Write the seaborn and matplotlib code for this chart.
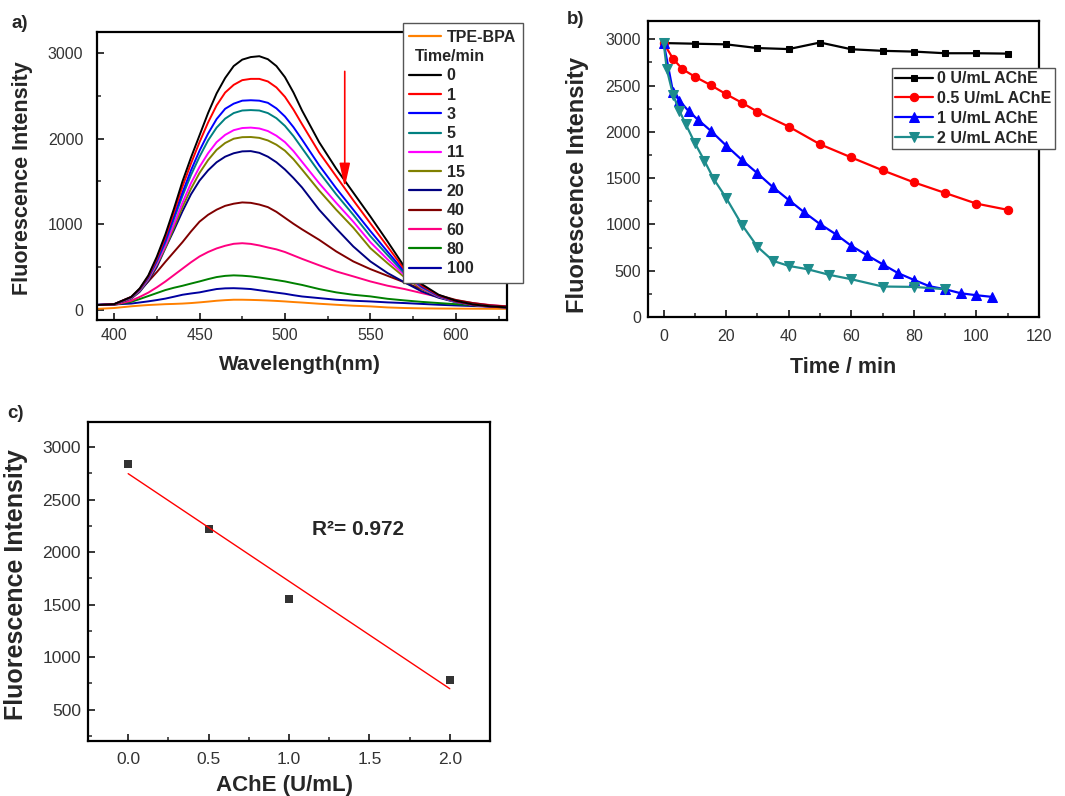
import numpy as np
import pandas as pd
import matplotlib
matplotlib.use("Agg")
import matplotlib.pyplot as plt
from matplotlib.lines import Line2D
from matplotlib.ticker import MultipleLocator
import seaborn as sns

# -------- panel a: emission spectra vs incubation time --------
wavelength = [390, 400, 410, 415, 420, 425, 430, 435, 440, 445,
              450, 455, 460, 465, 470, 475, 480, 485, 490, 495,
              500, 505, 510, 520, 530, 540, 550, 560, 570, 580,
              590, 600, 610, 620, 630]
tpe_bpa = [10, 20, 40, 48, 55, 60, 65, 68, 72, 78,
           86, 95, 105, 112, 117, 117, 115, 112, 108, 103,
           97, 90, 84, 70, 58, 47, 39, 27, 20, 16,
           14, 13, 12, 11, 10]
spec_0 = [55, 65, 150, 250, 400, 620, 880, 1180, 1500, 1780,
          2040, 2300, 2530, 2710, 2850, 2925, 2955, 2965, 2930, 2850,
          2720, 2540, 2330, 1960, 1650, 1370, 1090, 800, 500, 300,
          175, 105, 62, 40, 28]
spec_1 = [55, 65, 150, 245, 390, 600, 850, 1140, 1440, 1710,
          1960, 2190, 2390, 2540, 2630, 2685, 2700, 2700, 2670, 2600,
          2490, 2340, 2170, 1840, 1560, 1280, 1010, 740, 470, 285,
          168, 100, 60, 39, 28]
spec_3 = [55, 65, 148, 240, 380, 580, 810, 1090, 1370, 1630,
          1860, 2060, 2230, 2350, 2410, 2445, 2450, 2445, 2420, 2355,
          2260, 2135, 1990, 1690, 1420, 1170, 920, 680, 445, 275,
          162, 97, 59, 38, 27]
spec_5 = [55, 64, 145, 235, 372, 565, 790, 1060, 1330, 1575,
          1790, 1980, 2130, 2235, 2300, 2330, 2335, 2330, 2300, 2240,
          2150, 2030, 1890, 1610, 1350, 1110, 860, 640, 425, 265,
          158, 95, 58, 37, 27]
spec_11 = [55, 64, 140, 228, 360, 540, 750, 1000, 1250, 1480,
           1670, 1830, 1960, 2045, 2100, 2125, 2130, 2120, 2090, 2035,
           1960, 1855, 1730, 1480, 1250, 1030, 790, 590, 405, 255,
           153, 93, 57, 36, 27]
spec_15 = [55, 62, 135, 220, 350, 525, 725, 960, 1200, 1415,
           1600, 1750, 1870, 1950, 2000, 2018, 2020, 2010, 1980, 1930,
           1860, 1760, 1640, 1395, 1170, 960, 720, 545, 380, 245,
           150, 91, 56, 36, 26]
spec_20 = [55, 62, 130, 210, 335, 500, 720, 930, 1150, 1350,
           1510, 1630, 1725, 1790, 1830, 1852, 1855, 1835, 1790, 1725,
           1640, 1540, 1430, 1170, 950, 740, 565, 430, 320, 215,
           140, 88, 54, 35, 26]
spec_40 = [55, 60, 140, 225, 330, 440, 560, 675, 790, 915,
           1030, 1110, 1170, 1215, 1240, 1255, 1250, 1230, 1200, 1145,
           1075, 1005, 940, 818, 682, 565, 475, 397, 320, 240,
           170, 115, 78, 52, 38]
spec_60 = [55, 58, 105, 150, 200, 262, 330, 405, 480, 555,
           623, 675, 717, 748, 771, 778, 770, 752, 728, 706,
           675, 635, 595, 520, 448, 390, 331, 281, 242, 195,
           150, 110, 78, 55, 40]
spec_80 = [55, 58, 92, 125, 160, 195, 230, 257, 280, 306,
           331, 358, 382, 396, 402, 398, 390, 377, 362, 347,
           331, 310, 290, 242, 203, 175, 156, 128, 109, 92,
           78, 65, 52, 42, 35]
spec_100 = [60, 62, 72, 85, 98, 113, 130, 152, 175, 190,
            203, 223, 242, 250, 252, 248, 242, 228, 214, 200,
            187, 170, 155, 136, 117, 105, 97, 86, 78, 68,
            58, 50, 43, 37, 32]

time_labels = ["0", "1", "3", "5", "11", "15", "20", "40", "60", "80", "100"]
spectra = [spec_0, spec_1, spec_3, spec_5, spec_11, spec_15, spec_20,
           spec_40, spec_60, spec_80, spec_100]
spec_colors = ["#000000", "#FF0000", "#0000FF", "#008080", "#FF00FF", "#808000",
               "#000080", "#800000", "#FF0080", "#008000", "#0000A0"]
tpe_color = "#FF8000"

# -------- panel b: kinetics at different AChE levels --------
t_0 = [0, 10, 20, 30, 40, 50, 60, 70, 80, 90, 100, 110]
i_0 = [2960, 2953, 2946, 2906, 2895, 2966, 2893, 2876, 2868, 2850, 2850, 2846]
t_05 = [0, 3, 6, 10, 15, 20, 25, 30, 40, 50, 60, 70, 80, 90, 100, 110]
i_05 = [2960, 2790, 2678, 2596, 2506, 2407, 2315, 2218, 2057, 1866, 1724, 1585,
        1455, 1340, 1225, 1158]
t_1 = [0, 3, 5, 8, 11, 15, 20, 25, 30, 35, 40, 45, 50, 55, 60, 65, 70, 75, 80,
       85, 90, 95, 100, 105]
i_1 = [2960, 2430, 2339, 2224, 2130, 2014, 1852, 1697, 1552, 1401, 1264, 1130,
       1004, 895, 769, 668, 570, 473, 401, 332, 300, 256, 235, 217]
t_2 = [0, 1, 3, 5, 7, 10, 13, 16, 20, 25, 30, 35, 40, 46, 53, 60, 70, 80, 90]
i_2 = [2960, 2675, 2400, 2231, 2087, 1877, 1690, 1491, 1285, 997, 758, 606, 552,
       516, 455, 408, 329, 325, 300]
kin_labels = ["0 U/mL AChE", "0.5 U/mL AChE", "1 U/mL AChE", "2 U/mL AChE"]
kin_colors = ["#000000", "#FF0000", "#0000FF", "#1E8C8C"]
kin_markers = ["s", "o", "^", "v"]

# -------- panel c: linear calibration --------
ache = [0.0, 0.5, 1.0, 2.0]
ache_int = [2840, 2225, 1555, 785]
r2_text = "R\u00b2= 0.972"

# ------------------------
sns.set_style("ticks")
plt.rcParams["font.family"] = ["Liberation Sans", "DejaVu Sans"]

TICK_COLOR = "#333333"


def style_axes(ax, fs, xpad, ypad):
    for s in ax.spines.values():
        s.set_linewidth(1.6)
        s.set_color("black")
    ax.tick_params(which="both", direction="in", top=False, right=False,
                   labelcolor=TICK_COLOR, labelsize=fs)
    ax.tick_params(axis="x", which="both", pad=xpad)
    ax.tick_params(axis="y", which="both", pad=ypad)
    ax.tick_params(which="major", length=5, width=1.3)
    ax.tick_params(which="minor", length=3, width=1.1)


fig = plt.figure(figsize=(10.65, 7.96), dpi=100)
ax_a = fig.add_axes([0.0911, 0.598, 0.385, 0.362])
ax_b = fig.add_axes([0.6085, 0.6018, 0.367, 0.372])
ax_c = fig.add_axes([0.0826, 0.0691, 0.3775, 0.4007])

# ---- a ----
rows = []
for lab, vals in zip(time_labels, spectra):
    for w, v in zip(wavelength, vals):
        rows.append((w, v, lab))
for w, v in zip(wavelength, tpe_bpa):
    rows.append((w, v, "TPE-BPA"))
df_a = pd.DataFrame(rows, columns=["wl", "fi", "curve"])
pal_a = dict(zip(time_labels, spec_colors))
pal_a["TPE-BPA"] = tpe_color
sns.lineplot(data=df_a, x="wl", y="fi", hue="curve", palette=pal_a,
             hue_order=["TPE-BPA"] + time_labels[::-1], estimator=None,
             sort=True, lw=1.4, legend=False, ax=ax_a)
ax_a.set_xlim(390, 630)
ax_a.set_ylim(-120, 3250)
ax_a.xaxis.set_major_locator(MultipleLocator(50))
ax_a.xaxis.set_minor_locator(MultipleLocator(25))
ax_a.yaxis.set_major_locator(MultipleLocator(1000))
ax_a.yaxis.set_minor_locator(MultipleLocator(500))
style_axes(ax_a, 11.5, 6, 10)
ax_a.set_xlabel("Wavelength(nm)", fontsize=15, fontweight="bold")
ax_a.set_ylabel("Fluorescence Intensity", fontsize=15.5, fontweight="bold")
ax_a.xaxis.set_label_coords(0.495, -0.12)
ax_a.yaxis.set_label_coords(-0.156, 0.493)
ax_a.annotate("", xy=(535, 1400), xytext=(535, 2820),
              arrowprops=dict(arrowstyle="-|>,head_length=0.9,head_width=0.2",
                              color="red", lw=1.2, mutation_scale=16))

handles = [Line2D([], [], color=tpe_color, lw=1.6),
           Line2D([], [], color="none", lw=0)]
handles += [Line2D([], [], color=c, lw=1.6) for c in spec_colors]
labels = ["TPE-BPA", "Time/min"] + time_labels
leg_a = ax_a.legend(handles, labels, loc="upper left",
                    bbox_to_anchor=(0.746, 1.03), frameon=True, fancybox=False,
                    framealpha=1, edgecolor="#555555", borderpad=0.4,
                    labelspacing=0.27, handlelength=2.0, handletextpad=0.35,
                    borderaxespad=0, prop=dict(weight="bold", size=11.5))
leg_a.get_frame().set_linewidth(1.0)
leg_a.get_texts()[1].set_x(-32)

# ---- b ----
kin_sets = [(t_0, i_0), (t_05, i_05), (t_1, i_1), (t_2, i_2)]
msizes = [5, 6, 6.5, 6.5]
for (tt, ii), lab, col, mk, ms in zip(kin_sets, kin_labels, kin_colors,
                                      kin_markers, msizes):
    sns.lineplot(x=tt, y=ii, color=col, marker=mk, markersize=ms,
                 markeredgecolor=col, lw=1.6, label=lab, ax=ax_b)
ax_b.set_xlim(-5, 120)
ax_b.set_ylim(0, 3200)
ax_b.xaxis.set_major_locator(MultipleLocator(20))
ax_b.xaxis.set_minor_locator(MultipleLocator(10))
ax_b.yaxis.set_major_locator(MultipleLocator(500))
ax_b.yaxis.set_minor_locator(MultipleLocator(250))
style_axes(ax_b, 11.5, 9, 5)
ax_b.set_xlabel("Time / min", fontsize=15.5, fontweight="bold")
ax_b.set_ylabel("Fluorescence Intensity", fontsize=17, fontweight="bold")
ax_b.xaxis.set_label_coords(0.5, -0.135)
ax_b.yaxis.set_label_coords(-0.151, 0.446)
leg_b = ax_b.legend(loc="upper left", bbox_to_anchor=(0.624, 0.841),
                    frameon=True, fancybox=False, framealpha=1,
                    edgecolor="#555555", borderpad=0.2, labelspacing=0.31,
                    handlelength=2.4, handletextpad=0.25, borderaxespad=0,
                    prop=dict(weight="bold", size=11.5))
leg_b.get_frame().set_linewidth(1.0)

# ---- c ----
sns.regplot(x=ache, y=ache_int, ci=None, marker="s", color="black",
            scatter_kws=dict(s=30, linewidths=0),
            line_kws=dict(color="red", lw=1.0), ax=ax_c)
ax_c.set_xlim(-0.25, 2.25)
ax_c.set_ylim(200, 3240)
ax_c.xaxis.set_major_locator(MultipleLocator(0.5))
ax_c.xaxis.set_minor_locator(MultipleLocator(0.25))
ax_c.yaxis.set_major_locator(MultipleLocator(500))
ax_c.yaxis.set_minor_locator(MultipleLocator(250))
style_axes(ax_c, 12.5, 8, 5)
ax_c.set_xlabel("AChE (U/mL)", fontsize=16, fontweight="bold")
ax_c.set_ylabel("Fluorescence Intensity", fontsize=18, fontweight="bold")
ax_c.xaxis.set_label_coords(0.488, -0.106)
ax_c.yaxis.set_label_coords(-0.149, 0.492)
ax_c.text(1.14, 2220, r2_text, fontsize=15, fontweight="bold", va="center")

# panel tags
fig.text(0.011, 0.971, "a)", fontsize=13.5, fontweight="bold", va="center")
fig.text(0.532, 0.975, "b)", fontsize=13.5, fontweight="bold", va="center")
fig.text(0.007, 0.48, "c)", fontsize=13.5, fontweight="bold", va="center")

fig.savefig("out.png", dpi=100)
